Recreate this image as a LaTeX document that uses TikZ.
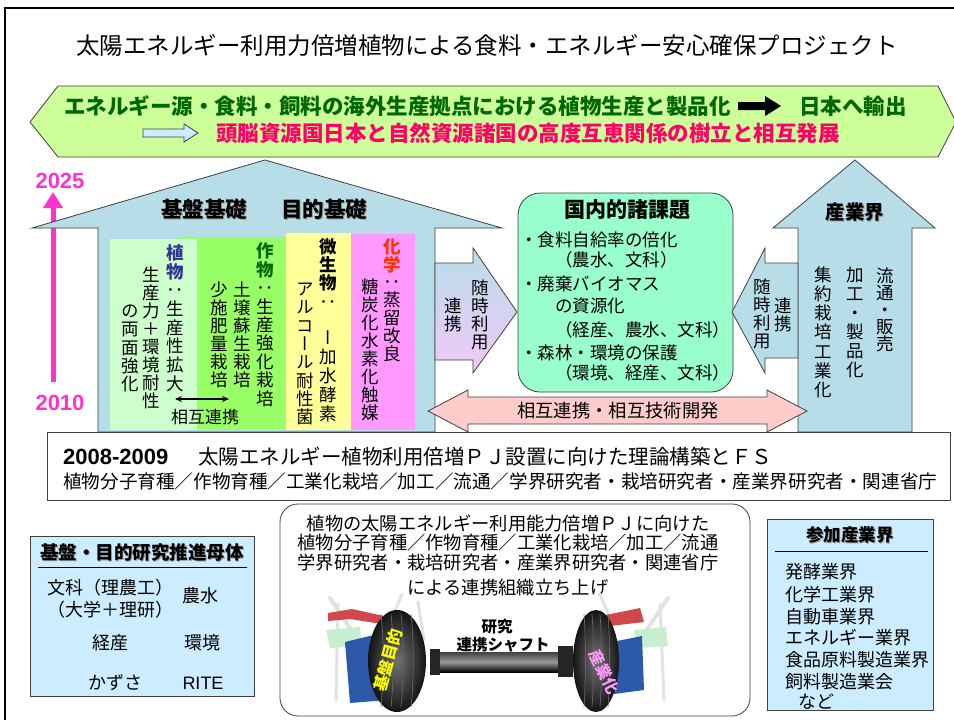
\documentclass[tikz,border=0pt]{standalone}
\usepackage{fontspec}
\usepackage{graphicx}
\setmainfont{Noto Sans CJK JP}
\newfontfamily\vjp[RawFeature=+vert]{Noto Sans CJK JP}
\newfontfamily\arial{Liberation Sans}
\usetikzlibrary{arrows.meta}

\definecolor{house}{HTML}{B7DEE8}
\definecolor{banner}{HTML}{CCFF99}
\definecolor{lgreen}{HTML}{CCFFCC}
\definecolor{green2}{HTML}{99FF66}
\definecolor{lyellow}{HTML}{FFFF99}
\definecolor{lpink}{HTML}{FF99FF}
\definecolor{mint}{HTML}{99FFCC}
\definecolor{salmon}{HTML}{FFCCCC}
\definecolor{skyb}{HTML}{CCECFF}
\definecolor{magen}{HTML}{FF33CC}
\definecolor{dgreen}{HTML}{006600}
\definecolor{hotred}{HTML}{FF0066}
\definecolor{navy}{HTML}{333399}
\definecolor{orred}{HTML}{FF3300}
\definecolor{edge}{HTML}{404040}
\definecolor{lilac}{HTML}{F2C8F8}
\definecolor{hubblue}{HTML}{2D5AA8}
\definecolor{armred}{HTML}{D0484C}
\definecolor{armgreen}{HTML}{C8EED0}
\definecolor{strut}{HTML}{E2E2E2}
\definecolor{wheeltext}{HTML}{FFFF00}

\newcommand\fsz[1]{\fontsize{#1pt}{#1pt}\selectfont}
\newcommand\shadowed[1]{\leavevmode\rlap{\kern1.2pt\raisebox{-1.2pt}{\color{black!40}#1}}#1}

% vertical (top-to-bottom) text: one character per cell, fixed pitch
\makeatletter
\def\vt@end{\vt@end}
\def\vt@loop#1{\ifx#1\vt@end\else\vt@cell{#1}\expandafter\vt@loop\fi}
\def\vt@cell#1{\hbox to 1em{\vrule width0pt height .88em depth\dimexpr\vt@pitch-.88em\relax\hss\smash{#1}\hss}}
\newcommand\vtext[2]{\vbox{\offinterlineskip\vjp\def\vt@pitch{#1}\vt@loop#2\vt@end}}
\makeatother

\tikzset{
  outline/.style={draw=edge, line width=0.8pt},
  vcol/.style={anchor=north, inner sep=0pt, font=\fsz{17.5}},
  txt/.style={inner sep=0pt, font=\fsz{18}},
  boldtxt/.style={inner sep=0pt, font=\bfseries\fsz{18}},
  tyre/.style={inner color=black!55, outer color=black!92},
  tread/.style={black!60, line width=0.7pt},
}

\begin{document}
\begin{tikzpicture}[x=1pt, y=-1pt]
\useasboundingbox (0,0) rectangle (954,720);
\fill[white] (0,0) rectangle (954,720);

% page frame
\draw[line width=2pt] (5,730) -- (5,8) -- (960,8);

% title
\node[txt, font=\fsz{23.5}] (title) at (487,45)
  {太陽エネルギー利用力倍増植物による食料・エネルギー安心確保プロジェクト};

% banner
\draw[outline, fill=banner] (30,122) -- (58,86) -- (938,86) -- (956,122) -- (938,157) -- (58,157) -- cycle;
\node[boldtxt, font=\bfseries\fsz{21.5}, text=dgreen, anchor=west] (b1) at (64,106)
  {エネルギー源・食料・飼料の海外生産拠点における植物生産と製品化};
\fill[black] (738,102) -- (765,102) -- (765,96) -- (781,106) -- (765,116) -- (765,110) -- (738,110) -- cycle;
\node[boldtxt, font=\bfseries\fsz{21.5}, text=dgreen, anchor=west] (b2) at (799,106) {日本へ輸出};
\draw[outline, fill=skyb] (143,129) -- (184,129) -- (184,124) -- (198,133) -- (184,142) -- (184,137) -- (143,137) -- cycle;
\node[boldtxt, font=\bfseries\fsz{21.5}, text=hotred, anchor=west] (b3) at (216,133)
  {頭脳資源国日本と自然資源諸国の高度互恵関係の樹立と相互発展};

% timeline
\node[inner sep=0pt, font=\arial\bfseries\fsz{22}, text=magen] (y25) at (60,181) {2025};
\node[inner sep=0pt, font=\arial\bfseries\fsz{22}, text=magen] (y10) at (60,403) {2010};
\coordinate (tl0) at (53,382);
\coordinate (tl1) at (53,192);
\draw[magen, line width=5pt, -{Triangle[length=16pt,width=19pt]}] (tl0) -- (tl1);

% house of research foundations
\draw[outline, fill=house] (98,432) -- (98,228) -- (32,228) -- (265,160) -- (502,228) -- (435,228) -- (435,432) -- cycle;
\node[boldtxt, font=\bfseries\fsz{21.5}] (kb1) at (204,210) {\shadowed{基盤基礎}};
\node[boldtxt, font=\bfseries\fsz{21.5}] (kb2) at (324,210) {\shadowed{目的基礎}};

\fill[green2] (178,237) rectangle (286,430);
\fill[lgreen] (110,239) rectangle (197,430);
\fill[lyellow] (286,233) rectangle (351,430);
\fill[lpink] (351,234) rectangle (415,430);

% plant column
\node[vcol, font=\bfseries\fsz{17.5}, text=navy] (c1a) at (175,244) {\vtext{18.4pt}{植物}};
\node[vcol] (c1b) at (175,281) {\vtext{18.7pt}{：生産性拡大}};
\node[vcol] (c1c) at (151,266) {\vtext{18pt}{生産力＋環境耐性}};
\node[vcol] (c1d) at (130,302) {\vtext{18.2pt}{の両面強化}};
% crop column
\node[vcol, font=\bfseries\fsz{17.5}, text=dgreen] (c2a) at (265,242) {\vtext{18.4pt}{作物}};
\node[vcol] (c2b) at (265,279) {\vtext{18.4pt}{：生産強化栽培}};
\node[vcol] (c2c) at (242,281) {\vtext{18pt}{土壌蘇生栽培}};
\node[vcol] (c2d) at (219,281) {\vtext{18pt}{少施肥量栽培}};
\coordinate (mr0) at (175,399);
\coordinate (mr1) at (229,399);
\draw[line width=1.2pt, {Stealth[length=7pt,width=6pt]}-{Stealth[length=7pt,width=6pt]}] (mr0) -- (mr1);
\node[txt, font=\fsz{17}] (mutual) at (205,417) {相互連携};
% microbe column
\node[vcol, font=\bfseries\fsz{17.5}] (c3a) at (328,238) {\vtext{18pt}{微生物}};
\node[vcol] (c3b) at (328,293) {\vtext{18pt}{：}};
\node[vcol] (c3c) at (328,329) {\vtext{19pt}{ー加水酵素}};
\node[vcol] (c3d) at (305,280) {\vtext{18.3pt}{アルコール耐性菌}};
% chemistry column
\node[vcol, font=\bfseries\fsz{17.5}, text=orred] (c4a) at (392,238) {\vtext{17.5pt}{化学}};
\node[vcol] (c4b) at (392,273) {\vtext{18pt}{：蒸留改良}};
\node[vcol] (c4c) at (370,278) {\vtext{18pt}{糖炭化水素化触媒}};

% arrow from house to domestic issues
\shade[top color=house, bottom color=lilac, draw=edge, line width=0.8pt]
  (435,263) -- (473,263) -- (473,248) -- (517,312) -- (473,373) -- (473,360) -- (435,360) -- cycle;
\node[vcol] (ar1) at (480,279) {\vtext{17.8pt}{随時利用}};
\node[vcol] (ar2) at (453,297) {\vtext{17.8pt}{連携}};

% domestic issues
\draw[outline, fill=mint, rounded corners=22pt] (518,193) rectangle (733,392);
\node[boldtxt, font=\bfseries\fsz{21}] (dom) at (627,210) {国内的諸課題};
\node[txt, font=\fsz{17.5}, anchor=west] (d1) at (520,240) {・食料自給率の倍化};
\node[txt, font=\fsz{17.5}, anchor=west] (d2) at (555,260) {（農水、文科）};
\node[txt, font=\fsz{17.5}, anchor=west] (d3) at (520,284) {・廃棄バイオマス};
\node[txt, font=\fsz{17.5}, anchor=west] (d4) at (555,306) {の資源化};
\node[txt, font=\fsz{17.5}, anchor=west] (d5) at (555,330) {（経産、農水、文科）};
\node[txt, font=\fsz{17.5}, anchor=west] (d6) at (520,353) {・森林・環境の保護};
\node[txt, font=\fsz{17.5}, anchor=west] (d7) at (555,373) {（環境、経産、文科）};

% industry
\draw[outline, fill=house] (798,432) -- (798,228) -- (773,228) -- (855,160) -- (935,228) -- (912,228) -- (912,432) -- cycle;
\node[boldtxt, font=\bfseries\fsz{19.5}] (ind) at (855,213) {\shadowed{産業界}};
\node[vcol] (i1) at (885,267) {\vtext{17pt}{流通・販売}};
\node[vcol] (i2) at (855,266) {\vtext{18.9pt}{加工・製品化}};
\node[vcol] (i3) at (823,266) {\vtext{19.1pt}{集約栽培工業化}};

% arrow from industry to domestic issues
\draw[outline, fill=house] (798,263) -- (765,263) -- (765,248) -- (732,312) -- (765,373) -- (765,358) -- (798,358) -- cycle;
\node[vcol] (al1) at (783,297) {\vtext{17.5pt}{連携}};
\node[vcol] (al2) at (762,278) {\vtext{18pt}{随時利用}};

% mutual development arrow
\draw[outline, fill=salmon] (428,411) -- (468,390) -- (468,397) -- (767,397) -- (767,390) -- (807,411) -- (767,432) -- (767,424) -- (468,424) -- (468,432) -- cycle;
\node[txt, font=\fsz{18.3}] (dev) at (618,411) {相互連携・相互技術開発};

% feasibility study
\draw[outline, fill=white] (47,432) rectangle (950,500);
\node[inner sep=0pt, font=\arial\bfseries\fsz{22}, anchor=west] (fsy) at (63,457) {2008-2009};
\node[txt, font=\fsz{20.5}, anchor=west] (fs1) at (198,457) {太陽エネルギー植物利用倍増ＰＪ設置に向けた理論構築とＦＳ};
\node[txt, font=\fsz{18.6}, anchor=west] (fs2) at (63,481) {植物分子育種／作物育種／工業化栽培／加工／流通／学界研究者・栽培研究者・産業界研究者・関連省庁};

% research bodies
\draw[outline, fill=skyb] (30,536) rectangle (254,696);
\node[boldtxt, font=\bfseries\fsz{18.5}] (rb) at (142,553) {\shadowed{基盤・目的研究推進母体}};
\draw[line width=1pt] (38,567) -- (247,567);
\node[txt, anchor=west] (rb1) at (47,588) {文科（理農工）};
\node[txt, anchor=west] (rb2) at (47,610) {（大学＋理研）};
\node[txt, anchor=west] (rb3) at (182,596) {農水};
\node[txt] (rb4) at (110,643) {経産};
\node[txt] (rb5) at (202,643) {環境};
\node[txt] (rb6) at (115,683) {かずさ};
\node[inner sep=0pt, font=\arial\fsz{18}] (rb7) at (203,683) {RITE};

% participating industries
\draw[outline, fill=skyb] (767,519) rectangle (933,710);
\node[boldtxt, font=\bfseries\fsz{17.5}] (pi) at (850,535) {\shadowed{参加産業界}};
\draw[line width=1pt] (775,551) -- (928,551);
\node[txt, anchor=west] (p1) at (785,572) {発酵業界};
\node[txt, anchor=west] (p2) at (785,595) {化学工業界};
\node[txt, anchor=west] (p3) at (785,617) {自動車業界};
\node[txt, anchor=west] (p4) at (785,638) {エネルギー業界};
\node[txt, anchor=west] (p5) at (785,660) {食品原料製造業界};
\node[txt, anchor=west] (p6) at (785,682) {飼料製造業会};
\node[txt, anchor=west] (p7) at (798,702) {など};

% cooperative organisation
\draw[outline, fill=white, rounded corners=18pt] (280,504) rectangle (750,716);
\node[txt, font=\fsz{18.3}] (o1) at (508,523) {植物の太陽エネルギー利用能力倍増ＰＪに向けた};
\node[txt, font=\fsz{18.3}] (o2) at (508,543) {植物分子育種／作物育種／工業化栽培／加工／流通};
\node[txt, font=\fsz{18.3}] (o3) at (508,563) {学界研究者・栽培研究者・産業界研究者・関連省庁};
\node[txt, font=\fsz{18.3}] (o4) at (508,588) {による連携組織立ち上げ};

% left wheel assembly: suspension, arms, hub and tyre
\draw[strut, line width=4pt, line cap=round] (330,598) -- (358,640);
\draw[strut, line width=3pt, line cap=round] (338,604) -- (336,700);
\draw[strut, line width=3pt, line cap=round] (402,594) -- (392,618);
\draw[strut, line width=3pt, line cap=round] (418,602) -- (424,640);
\fill[armred] (328,613) -- (352,609) -- (384,616) -- (382,624) -- (350,619) -- (328,621) -- cycle;
\fill[armgreen] (326,630) -- (360,627) -- (362,646) -- (330,648) -- cycle;
\fill[hubblue] (345,642) -- (378,634) -- (388,700) -- (350,703) -- cycle;
\shade[tyre] (397,661) ellipse [x radius=29, y radius=51];
\foreach \dx in {-16,-6,4,14} \draw[tread] (397+\dx,614) .. controls (400+\dx,640) and (400+\dx,680) .. (397+\dx,707);
\node[inner sep=0pt, font=\bfseries\fsz{16}, text=wheeltext, rotate=75] (wl) at (388,660) {基盤目的};

% right wheel assembly
\draw[strut, line width=4pt, line cap=round] (668,598) -- (640,640);
\draw[strut, line width=3pt, line cap=round] (660,604) -- (664,700);
\draw[strut, line width=3pt, line cap=round] (600,594) -- (610,618);
\fill[armred] (606,615) -- (640,608) -- (644,622) -- (610,626) -- cycle;
\fill[armgreen] (634,630) -- (666,627) -- (668,646) -- (636,648) -- cycle;
\fill[hubblue] (612,642) -- (642,636) -- (644,690) -- (614,694) -- cycle;
\shade[tyre] (596,661) ellipse [x radius=23, y radius=51];
\foreach \dx in {-12,-4,4,12} \draw[tread] (596+\dx,614) .. controls (598+\dx,640) and (598+\dx,680) .. (596+\dx,707);
\node[inner sep=0pt, font=\bfseries\fsz{15.5}, text=lpink, rotate=-64] (wr) at (604,672) {産業化};

% connecting shaft
\shade[top color=black!75, bottom color=black, middle color=black!40] (432,652) rectangle (572,672);
\fill[black!85] (430,649) rectangle (440,675);
\fill[black!85] (558,646) rectangle (573,677);
\node[boldtxt, font=\bfseries\fsz{15.5}] (sh1) at (497,627) {研究};
\node[boldtxt, font=\bfseries\fsz{15.5}] (sh2) at (503,645) {連携シャフト};
\end{tikzpicture}
\end{document}
